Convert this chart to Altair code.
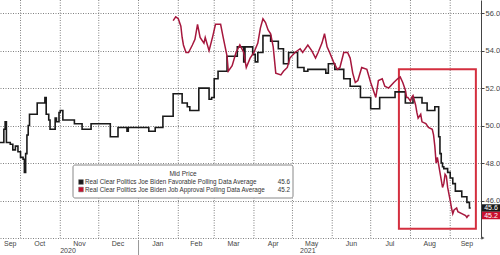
import altair as alt
import pandas as pd

# ---------------- data ----------------
fav_dates = [
    "2020-09-15", "2020-09-18", "2020-09-19", "2020-09-20", "2020-09-23", "2020-09-25",
    "2020-09-27", "2020-09-29", "2020-10-01", "2020-10-03", "2020-10-04", "2020-10-05",
    "2020-10-06", "2020-10-07", "2020-10-08", "2020-10-14", "2020-10-20", "2020-10-21",
    "2020-10-23", "2020-10-24", "2020-10-28", "2020-10-29", "2020-10-31", "2020-11-01",
    "2020-11-03", "2020-11-12", "2020-11-18", "2020-11-25", "2020-12-10", "2020-12-16",
    "2020-12-23", "2020-12-24", "2021-01-09", "2021-01-14", "2021-01-20", "2021-01-28",
    "2021-02-04", "2021-02-08", "2021-02-10", "2021-02-17", "2021-02-25", "2021-02-27",
    "2021-03-01", "2021-03-04", "2021-03-11", "2021-03-19", "2021-03-24", "2021-03-25",
    "2021-03-31", "2021-04-02", "2021-04-04", "2021-04-08", "2021-04-14", "2021-04-20",
    "2021-04-24", "2021-04-28", "2021-05-05", "2021-05-10", "2021-05-13", "2021-05-27",
    "2021-05-29", "2021-06-03", "2021-06-10", "2021-06-15", "2021-06-23", "2021-07-01",
    "2021-07-08", "2021-07-20", "2021-07-28", "2021-08-03", "2021-08-10", "2021-08-14",
    "2021-08-20", "2021-08-23", "2021-08-24", "2021-08-25", "2021-08-26", "2021-08-27",
    "2021-08-30", "2021-09-01", "2021-09-03", "2021-09-05", "2021-09-10", "2021-09-14",
    "2021-09-16", "2021-09-17",
]
fav_values = [
    49.1, 49.8, 50.2, 49.1, 49.0, 48.7,
    48.9, 48.6, 48.3, 48.2, 47.5, 48.5,
    49.5, 50.0, 50.6, 51.2, 51.5, 50.6,
    50.3, 49.8, 50.4, 50.2, 50.7, 50.8,
    50.3, 50.1, 49.8, 50.1, 49.4, 49.9,
    49.7, 49.9, 49.7, 49.9, 50.5, 51.7,
    51.2, 51.0, 50.8, 52.0, 51.4, 51.5,
    52.5, 52.9, 53.7, 54.2, 53.4, 54.2,
    53.8, 53.4, 53.9, 54.8, 54.5, 54.1,
    53.3, 53.9, 53.1, 52.9, 53.0, 52.8,
    53.3, 53.0, 52.5, 52.1, 51.5, 50.9,
    51.5, 51.8, 51.2, 51.5, 51.2, 50.8,
    51.0, 49.4, 48.5, 48.0, 47.8, 47.7,
    47.5, 47.2, 46.9, 46.5, 46.2, 45.9,
    45.6, 45.6,
]

appr_dates = [
    "2021-01-28", "2021-01-30", "2021-02-01", "2021-02-03", "2021-02-04", "2021-02-05",
    "2021-02-07", "2021-02-09", "2021-02-12", "2021-02-14", "2021-02-16", "2021-02-18",
    "2021-02-21", "2021-02-22", "2021-02-25", "2021-02-28", "2021-03-02", "2021-03-06",
    "2021-03-08", "2021-03-11", "2021-03-12", "2021-03-15", "2021-03-18", "2021-03-21",
    "2021-03-24", "2021-03-26", "2021-03-29", "2021-04-01", "2021-04-04", "2021-04-06",
    "2021-04-08", "2021-04-10", "2021-04-12", "2021-04-14", "2021-04-16", "2021-04-18",
    "2021-04-22", "2021-04-24", "2021-04-27", "2021-04-29", "2021-05-03", "2021-05-07",
    "2021-05-09", "2021-05-13", "2021-05-16", "2021-05-19", "2021-05-21", "2021-05-24",
    "2021-05-26", "2021-05-28", "2021-05-30", "2021-06-02", "2021-06-05", "2021-06-07",
    "2021-06-10", "2021-06-13", "2021-06-15", "2021-06-17", "2021-06-19", "2021-06-21",
    "2021-06-24", "2021-06-28", "2021-07-01", "2021-07-05", "2021-07-07", "2021-07-10",
    "2021-07-12", "2021-07-15", "2021-07-19", "2021-07-22", "2021-07-24", "2021-07-26",
    "2021-07-28", "2021-07-29", "2021-07-30", "2021-08-01", "2021-08-02", "2021-08-03",
    "2021-08-05", "2021-08-06", "2021-08-07", "2021-08-09", "2021-08-10", "2021-08-13",
    "2021-08-15", "2021-08-18", "2021-08-19", "2021-08-20", "2021-08-21", "2021-08-22",
    "2021-08-24", "2021-08-26", "2021-08-27", "2021-08-28", "2021-08-29", "2021-08-30",
    "2021-09-01", "2021-09-02", "2021-09-03", "2021-09-04", "2021-09-06", "2021-09-07",
    "2021-09-10", "2021-09-13", "2021-09-14", "2021-09-15", "2021-09-16",
]
appr_values = [
    55.6, 55.8, 55.7, 55.3, 54.7, 54.3,
    53.9, 53.9, 54.3, 54.6, 55.4, 54.7,
    54.4, 54.7, 54.0, 54.8, 55.4, 55.4,
    54.7, 53.7, 52.9, 53.2, 53.9, 54.3,
    53.9, 53.1, 53.6, 53.9, 54.4, 55.2,
    55.7, 55.5, 55.1, 54.9, 54.2, 52.8,
    52.7, 52.9, 53.1, 53.6, 53.9, 54.1,
    53.9, 54.3, 54.0, 53.6, 53.9, 54.4,
    54.9, 54.2, 53.9, 53.4, 53.0, 53.1,
    53.9, 53.9, 53.6, 52.8, 52.3, 52.4,
    53.1, 53.0, 52.3, 51.5, 52.4, 52.5,
    52.1, 52.0, 52.3, 52.5, 52.6, 52.3,
    51.9, 51.5, 51.5, 51.3, 51.5, 51.6,
    51.1, 50.7, 50.4, 50.6, 50.2, 50.1,
    49.9, 49.8, 49.5, 48.9, 48.0, 48.3,
    47.5, 46.7, 46.9, 47.4, 47.3, 46.7,
    46.0, 45.6, 45.3, 45.5, 45.6, 45.4,
    45.3, 45.2, 45.1, 45.2, 45.2,
]

series_names = [
    "Real Clear Politics Joe Biden Favorable Polling Data Average",
    "Real Clear Politics Joe Biden Job Approval Polling Data Average",
]
last_values = [45.6, 45.2]
legend_title = "Mid Price"

month_starts = [
    "2020-10-01", "2020-11-01", "2020-12-01", "2021-01-01", "2021-02-01", "2021-03-01",
    "2021-04-01", "2021-05-01", "2021-06-01", "2021-07-01", "2021-08-01", "2021-09-01",
]
month_label_dates = [
    "2020-09-23", "2020-10-16", "2020-11-16", "2020-12-16", "2021-01-16", "2021-02-15",
    "2021-03-16", "2021-04-16", "2021-05-16", "2021-06-16", "2021-07-16", "2021-08-16",
    "2021-09-14",
]
month_labels = ["Sep", "Oct", "Nov", "Dec", "Jan", "Feb", "Mar", "Apr", "May", "Jun",
                "Jul", "Aug", "Sep"]
year_label_dates = ["2020-11-07", "2021-05-13"]
year_labels = ["2020", "2021"]
year_break = ["2021-01-01"]

highlight_start = ["2021-07-23"]
highlight_end = ["2021-09-21"]
highlight_top = [53.0]
highlight_bottom = [44.5]

y_ticks = [46, 48, 50, 52, 54, 56]

# ---------------- styles ----------------
BLACK = "#1a1a1a"
RED = "#a6173d"
TAG_RED = "#c8102e"
BOX_RED = "#d42f3f"
GRID = "#808080"
FONT = "Liberation Sans"

x_scale = alt.Scale(
    type="utc",
    domain=[alt.DateTime(year=2020, month=9, date=15, utc=True),
            alt.DateTime(year=2021, month=9, date=25, utc=True)],
)
y_scale = alt.Scale(domain=[44.0, 56.7], zero=False, nice=False)

x_axis = alt.Axis(labels=False, ticks=False, grid=False, domain=True,
                  domainColor=GRID, domainDash=[1, 1.5], domainWidth=1, title=None)
y_axis = alt.Axis(orient="right", values=y_ticks, format=".1f", grid=True,
                  gridColor=GRID, gridDash=[1, 1.5], gridWidth=1, domainColor="#444444",
                  tickColor="#444444", tickSize=3, labelFontSize=7.5,
                  labelColor="#444444", labelPadding=1, labelFont=FONT,
                  title=None)

fav_df = pd.DataFrame({"date": fav_dates, "value": fav_values})
appr_df = pd.DataFrame({"date": appr_dates, "value": appr_values})
grid_df = pd.DataFrame({"date": month_starts})
mlab_df = pd.DataFrame({"date": month_label_dates, "label": month_labels})
ylab_df = pd.DataFrame({"date": year_label_dates, "label": year_labels})
ybrk_df = pd.DataFrame({"date": year_break})
box_df = pd.DataFrame({"start": highlight_start, "end": highlight_end,
                       "top": highlight_top, "bottom": highlight_bottom})
tag_df = pd.DataFrame({"name": series_names, "value": last_values,
                       "color": [BLACK, TAG_RED]})
tag_df["hi"] = tag_df["value"] + 0.2
tag_df["lo"] = tag_df["value"] - 0.2
tag_df["txt"] = tag_df["value"].map(lambda v: f"{v:.1f}")
one = pd.DataFrame({"a": [0]})


def X(field):
    return alt.X(field, scale=x_scale, axis=x_axis)


def Y(field):
    return alt.Y(field, scale=y_scale, axis=y_axis)


vgrid = alt.Chart(grid_df).mark_rule(color=GRID, strokeDash=[1, 1.5], strokeWidth=1).encode(
    x=X("date:T"), y=alt.value(0), y2=alt.value(238),
)

box = alt.Chart(box_df).mark_rect(fill=None, stroke=BOX_RED, strokeWidth=2).encode(
    x=X("start:T"), x2="end:T",
    y=Y("top:Q"), y2="bottom:Q",
)

fav_line = alt.Chart(fav_df).mark_line(color=BLACK, strokeWidth=1.6,
                                       interpolate="step-after").encode(
    x=X("date:T"), y=Y("value:Q"),
)

appr_line = alt.Chart(appr_df).mark_line(color=RED, strokeWidth=1.5).encode(
    x=X("date:T"), y=Y("value:Q"),
)

tags = alt.Chart(tag_df).mark_rect().encode(
    x=alt.value(482), x2=alt.value(500),
    y=Y("hi:Q"), y2="lo:Q",
    color=alt.Color("color:N", scale=None),
)
tag_text = alt.Chart(tag_df).mark_text(color="white", fontSize=7, font=FONT,
                                       align="center", baseline="middle").encode(
    x=alt.value(491), y=Y("value:Q"), text="txt:N",
)

legend_box = alt.Chart(one).mark_rect(fill="white", stroke="#888888", strokeWidth=1,
                                      cornerRadius=2).encode(
    x=alt.value(73), x2=alt.value(293), y=alt.value(165), y2=alt.value(198),
)
legend_title_mark = alt.Chart(one).mark_text(text=legend_title, fontSize=6.5, font=FONT,
                                             color="#333333", align="center",
                                             baseline="middle").encode(
    x=alt.value(183), y=alt.value(174),
)

legend_layers = []
row_y = [182, 189.5]
row_colors = [BLACK, TAG_RED]
for i in range(2):
    row_df = pd.DataFrame({"name": [series_names[i]], "txt": [f"{last_values[i]:.1f}"]})
    legend_layers.append(
        alt.Chart(row_df).mark_square(size=22, opacity=1, color=row_colors[i],
                                      stroke="#666666", strokeWidth=0.5).encode(
            x=alt.value(81), y=alt.value(row_y[i]))
    )
    legend_layers.append(
        alt.Chart(row_df).mark_text(fontSize=6.3, font=FONT, color="#333333",
                                    align="left", baseline="middle").encode(
            x=alt.value(85), y=alt.value(row_y[i]), text="name:N")
    )
    legend_layers.append(
        alt.Chart(row_df).mark_text(fontSize=6.3, font=FONT, color="#333333",
                                    align="right", baseline="middle").encode(
            x=alt.value(290), y=alt.value(row_y[i]), text="txt:N")
    )

mlabels = alt.Chart(mlab_df).mark_text(fontSize=7, font=FONT, color="#444444",
                                       align="center", baseline="middle").encode(
    x=X("date:T"), y=alt.value(244), text="label:N",
)
ylabels = alt.Chart(ylab_df).mark_text(fontSize=7, font=FONT, color="#444444",
                                       align="center", baseline="middle").encode(
    x=X("date:T"), y=alt.value(251), text="label:N",
)
ybreak = alt.Chart(ybrk_df).mark_rule(color="#999999", strokeWidth=1).encode(
    x=X("date:T"), y=alt.value(240), y2=alt.value(255),
)
arrow = alt.Chart(one).mark_point(shape="triangle-right", filled=True, size=12,
                                  color="#555555", opacity=1).encode(
    x=alt.value(483), y=alt.value(238),
)

chart = alt.layer(
    vgrid, box, fav_line, appr_line, tags, tag_text,
    legend_box, legend_title_mark, *legend_layers,
    mlabels, ylabels, ybreak, arrow,
).properties(
    width=481, height=238,
    autosize=alt.AutoSizeParams(type="none"),
    padding={"left": 0, "top": 0, "right": 19, "bottom": 17},
    background="white",
).configure_view(stroke=None)

chart.save("out.html", embed_options={"renderer": "svg", "actions": False})
